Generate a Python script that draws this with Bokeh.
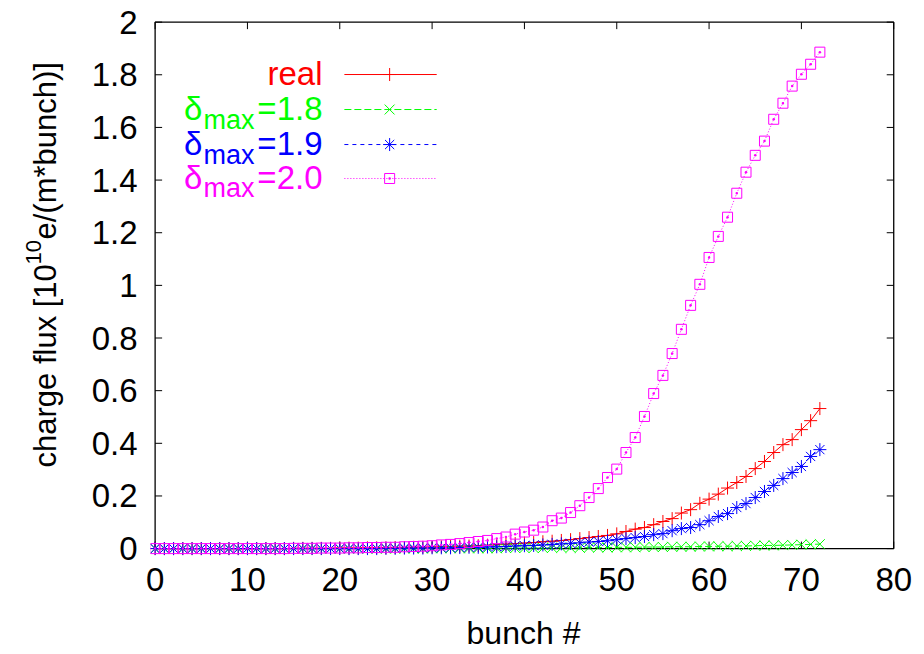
import math
from bokeh.plotting import figure
from bokeh.layouts import row
from bokeh.models import Label, Range1d, FixedTicker
from bokeh.embed import file_html
from bokeh.resources import INLINE

# bunch number along the train
bunch = list(range(73))

# charge flux per bunch [1e10 e/(m*bunch)]
flux_real = [0.000, 0.000, 0.000, 0.000, 0.000, 0.000, 0.000, 0.000, 0.000, 0.000,
             0.000, 0.000, 0.000, 0.000, 0.000, 0.001, 0.001, 0.001, 0.001, 0.001,
             0.002, 0.002, 0.002, 0.003, 0.003, 0.003, 0.004, 0.004, 0.005, 0.005,
             0.006, 0.007, 0.008, 0.009, 0.010, 0.011, 0.013, 0.015, 0.017, 0.019,
             0.021, 0.023, 0.026, 0.028, 0.031, 0.034, 0.038, 0.042, 0.046, 0.050,
             0.056, 0.065, 0.074, 0.080, 0.091, 0.103, 0.114, 0.135, 0.148, 0.172,
             0.188, 0.207, 0.230, 0.251, 0.274, 0.304, 0.331, 0.365, 0.395, 0.414,
             0.452, 0.486, 0.532]
flux_d18 = [0.000, 0.000, 0.000, 0.000, 0.000, 0.000, 0.000, 0.000, 0.000, 0.000,
            0.000, 0.000, 0.000, 0.000, 0.000, 0.000, 0.000, 0.000, 0.000, 0.000,
            0.000, 0.000, 0.000, 0.000, 0.000, 0.000, 0.000, 0.000, 0.000, 0.000,
            0.001, 0.001, 0.001, 0.001, 0.001, 0.001, 0.001, 0.001, 0.002, 0.002,
            0.002, 0.002, 0.002, 0.003, 0.003, 0.003, 0.003, 0.004, 0.004, 0.004,
            0.005, 0.005, 0.005, 0.006, 0.006, 0.006, 0.007, 0.007, 0.007, 0.008,
            0.008, 0.009, 0.009, 0.010, 0.010, 0.011, 0.012, 0.012, 0.013, 0.014,
            0.015, 0.016, 0.017]
flux_d19 = [0.000, 0.000, 0.000, 0.000, 0.000, 0.000, 0.000, 0.000, 0.000, 0.000,
            0.000, 0.000, 0.000, 0.000, 0.000, 0.000, 0.000, 0.000, 0.000, 0.000,
            0.000, 0.000, 0.000, 0.000, 0.000, 0.001, 0.001, 0.002, 0.002, 0.002,
            0.003, 0.003, 0.003, 0.004, 0.005, 0.005, 0.006, 0.007, 0.008, 0.010,
            0.011, 0.012, 0.014, 0.016, 0.018, 0.020, 0.022, 0.025, 0.027, 0.030,
            0.034, 0.038, 0.042, 0.046, 0.053, 0.057, 0.068, 0.076, 0.080, 0.091,
            0.106, 0.122, 0.133, 0.156, 0.171, 0.194, 0.217, 0.240, 0.266, 0.289,
            0.312, 0.350, 0.376]
flux_d20 = [0.000, 0.000, 0.000, 0.000, 0.000, 0.000, 0.000, 0.000, 0.000, 0.000,
            0.000, 0.000, 0.000, 0.000, 0.000, 0.001, 0.001, 0.001, 0.002, 0.002,
            0.002, 0.003, 0.003, 0.004, 0.004, 0.005, 0.005, 0.007, 0.008, 0.009,
            0.011, 0.014, 0.016, 0.019, 0.023, 0.027, 0.031, 0.038, 0.044, 0.055,
            0.063, 0.070, 0.082, 0.106, 0.116, 0.137, 0.163, 0.194, 0.228, 0.270,
            0.302, 0.365, 0.422, 0.502, 0.589, 0.658, 0.741, 0.833, 0.924, 1.004,
            1.106, 1.186, 1.259, 1.350, 1.430, 1.494, 1.548, 1.631, 1.692, 1.757,
            1.802, 1.840, 1.886]

x_ticks = [0, 10, 20, 30, 40, 50, 60, 70, 80]
y_ticks = [0, 0.2, 0.4, 0.6, 0.8, 1, 1.2, 1.4, 1.6, 1.8, 2]
y_tick_labels = ["0", "0.2", "0.4", "0.6", "0.8", "1", "1.2", "1.4", "1.6", "1.8", "2"]

series_names = ["real", "1.8", "1.9", "2.0"]
series_colors = ["#ff0000", "#00ff00", "#0000ff", "#ff00ff"]

FONT = "Liberation Sans"
X_MIN, X_MAX, Y_MIN, Y_MAX = 0, 80, 0, 2
TITLE_W = 70

p = figure(width=924 - TITLE_W, height=654, output_backend="svg", toolbar_location=None,
           x_range=Range1d(-0.5, 80.3), y_range=Range1d(-0.03, 2.01),
           min_border_left=150 - TITLE_W, min_border_right=28,
           min_border_top=19, min_border_bottom=98)
p.frame_align = False
p.outline_line_color = None
p.grid.visible = False
p.background_fill_color = "white"
p.border_fill_color = "white"

for ax in (p.xaxis, p.yaxis):
    ax.axis_line_color = None
    ax.major_tick_in = 0
    ax.major_tick_out = 0
    ax.minor_tick_line_color = None
    ax.major_label_text_font = FONT
    ax.major_label_text_font_size = "33px"
    ax.major_label_text_color = "black"

p.xaxis.ticker = FixedTicker(ticks=x_ticks)
p.xaxis.major_label_standoff = 11
p.xaxis.axis_label = "bunch #"
p.xaxis.axis_label_text_font = FONT
p.xaxis.axis_label_text_font_size = "32px"
p.xaxis.axis_label_text_font_style = "normal"
p.xaxis.axis_label_text_color = "black"
p.xaxis.axis_label_standoff = 21
p.yaxis.ticker = FixedTicker(ticks=y_ticks)
p.yaxis.major_label_overrides = {t: s for t, s in zip(y_ticks, y_tick_labels)}
p.yaxis.major_label_standoff = 13

# plot border and inward ticks on all four sides
tick_dx = 7 / 9.233
tick_dy = 7 / 263.2
p.line(x=[X_MIN, X_MAX, X_MAX, X_MIN, X_MIN], y=[Y_MIN, Y_MIN, Y_MAX, Y_MAX, Y_MIN],
       line_color="black", line_width=1.3)
p.segment(x0=x_ticks, y0=[Y_MIN] * len(x_ticks), x1=x_ticks, y1=[Y_MIN + tick_dy] * len(x_ticks),
          line_color="black", line_width=1)
p.segment(x0=x_ticks, y0=[Y_MAX] * len(x_ticks), x1=x_ticks, y1=[Y_MAX - tick_dy] * len(x_ticks),
          line_color="black", line_width=1)
p.segment(x0=[X_MIN] * len(y_ticks), y0=y_ticks, x1=[X_MIN + tick_dx] * len(y_ticks), y1=y_ticks,
          line_color="black", line_width=1)
p.segment(x0=[X_MAX] * len(y_ticks), y0=y_ticks, x1=[X_MAX - tick_dx] * len(y_ticks), y1=y_ticks,
          line_color="black", line_width=1)

styles = [
    dict(dash="solid", marker="cross", size=13),
    dict(dash="7 3", marker="x", size=14),
    dict(dash="4 4", marker="asterisk", size=13),
    dict(dash="1 2", marker="square_dot", size=10),
]
data = [flux_real, flux_d18, flux_d19, flux_d20]

for ys, col, st in zip(data, series_colors, styles):
    p.line(bunch, ys, line_color=col, line_width=1, line_dash=st["dash"])
    p.scatter(bunch, ys, marker=st["marker"], size=st["size"], line_color=col,
              fill_color=None, line_width=1)

# key: label text on the left, sample line with one point on the right
key_x0, key_x1, key_xm = 20.5, 30.5, 25.4
key_rows = [1.801, 1.668, 1.535, 1.406]
for ry, col, st in zip(key_rows, series_colors, styles):
    p.line([key_x0, key_x1], [ry, ry], line_color=col, line_width=1, line_dash=st["dash"])
    p.scatter([key_xm], [ry], marker=st["marker"], size=st["size"], line_color=col,
              fill_color=None, line_width=1)

key_text_right = 18.13
key_base_off = 0.004
LEG_FS = "33px"
for i, (name, ry, col) in enumerate(zip(series_names, key_rows, series_colors)):
    base = ry + key_base_off
    if i == 0:
        p.add_layout(Label(x=key_text_right, y=base, text=name, text_align="right",
                           text_baseline="alphabetic", text_color=col,
                           text_font=FONT, text_font_size=LEG_FS))
        continue
    p.add_layout(Label(x=key_text_right, y=base, text="=" + name, text_align="right",
                       text_baseline="alphabetic", text_color=col,
                       text_font=FONT, text_font_size=LEG_FS))
    p.add_layout(Label(x=10.77, y=base - 0.042, text="max", text_align="right",
                       text_baseline="alphabetic", text_color=col,
                       text_font=FONT, text_font_size="27px"))
    p.add_layout(Label(x=5.13, y=base, text="\u03b4", text_align="right",
                       text_baseline="alphabetic", text_color=col,
                       text_font=FONT, text_font_size=LEG_FS))

# vertical axis title, with a raised exponent, in a narrow strip left of the plot
t = figure(width=TITLE_W, height=654, output_backend="svg", toolbar_location=None,
           x_range=Range1d(0, TITLE_W), y_range=Range1d(0, 654),
           min_border_left=0, min_border_right=0, min_border_top=0, min_border_bottom=0)
t.frame_align = False
t.axis.visible = False
t.grid.visible = False
t.outline_line_color = None
ang = math.pi / 2
t.add_layout(Label(x=45, y=187, angle=ang, text="charge flux [10", text_align="left",
                   text_baseline="alphabetic", text_font=FONT, text_font_size="31px",
                   text_color="black"))
t.add_layout(Label(x=33, y=390, angle=ang, text="10", text_align="left",
                   text_baseline="alphabetic", text_font=FONT, text_font_size="22px",
                   text_color="black"))
t.add_layout(Label(x=45, y=415, angle=ang, text="e/(m*bunch)]", text_align="left",
                   text_baseline="alphabetic", text_font=FONT, text_font_size="31px",
                   text_color="black"))

layout = row(t, p)
open("out.html", "w").write(file_html(layout, INLINE))
